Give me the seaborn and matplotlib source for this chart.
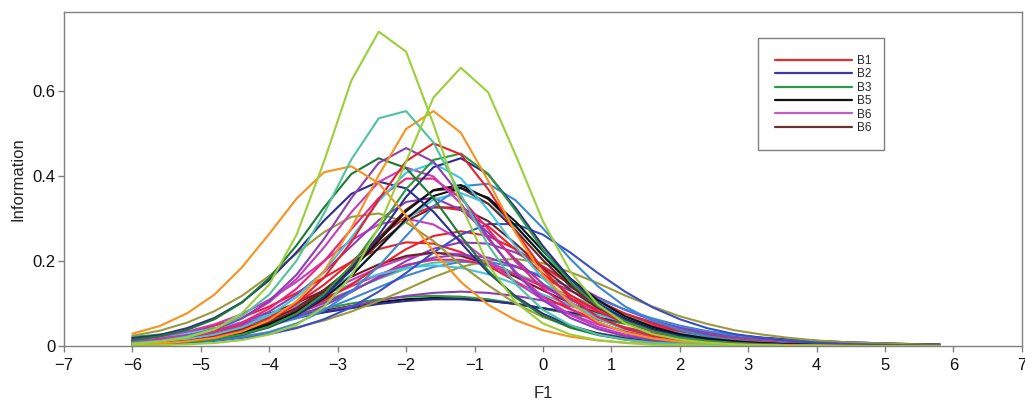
import matplotlib
matplotlib.use("Agg")
import matplotlib.pyplot as plt
import matplotlib.patches as mpatches
from matplotlib.lines import Line2D
import seaborn as sns
import pandas as pd

# ---------------- data ----------------
F1 = [-6.0, -5.6, -5.2, -4.8, -4.4, -4.0, -3.6, -3.2, -2.8, -2.4, -2.0, -1.6, -1.2, -0.8, -0.4,
      0.0, 0.4, 0.8, 1.2, 1.6, 2.0, 2.4, 2.8, 3.2, 3.6, 4.0, 4.4, 4.8, 5.2, 5.6, 5.8]

info_01 = [.020,.025,.032,.040,.049,.060,.071,.083,.094,.103,.110,.113,.112,.107,.099,.089,.077,.065,.054,.044,.036,.029,.023,.018,.014,.011,.008,.006,.005,.004,.003]
info_02 = [.021,.027,.034,.042,.052,.064,.076,.088,.100,.110,.116,.118,.116,.110,.100,.088,.076,.064,.052,.042,.034,.027,.021,.016,.013,.010,.007,.006,.004,.003,.003]
info_03 = [.015,.020,.026,.034,.043,.054,.066,.080,.094,.107,.118,.125,.128,.125,.118,.107,.094,.080,.066,.054,.043,.034,.026,.020,.015,.012,.009,.007,.005,.004,.003]
info_04 = [.019,.024,.030,.038,.047,.056,.067,.079,.089,.099,.106,.110,.110,.106,.099,.089,.079,.067,.056,.047,.038,.030,.024,.019,.015,.012,.009,.007,.005,.004,.004]
info_05 = [.016,.023,.033,.048,.067,.093,.125,.161,.198,.228,.244,.241,.221,.189,.152,.117,.086,.062,.044,.030,.021,.014,.010,.007,.004,.003,.002,.001,.001,.001,.001]
info_06 = [.007,.011,.016,.023,.034,.048,.068,.095,.127,.163,.200,.229,.244,.241,.220,.187,.150,.115,.085,.061,.043,.030,.020,.014,.009,.006,.004,.003,.002,.001,.001]
info_07 = [.013,.018,.026,.036,.051,.070,.095,.123,.155,.185,.208,.220,.216,.198,.170,.139,.108,.082,.060,.043,.031,.022,.015,.010,.007,.005,.003,.002,.002,.001,.001]
info_08 = [.014,.020,.028,.040,.055,.076,.101,.131,.163,.192,.212,.220,.212,.192,.163,.131,.101,.076,.055,.040,.028,.020,.014,.010,.007,.005,.003,.002,.001,.001,.001]
info_09 = [.012,.016,.023,.032,.044,.060,.080,.105,.131,.158,.182,.196,.200,.190,.171,.145,.118,.092,.070,.052,.038,.027,.019,.014,.010,.007,.005,.003,.002,.002,.001]
info_10 = [.009,.013,.018,.025,.035,.048,.065,.086,.111,.138,.165,.186,.198,.198,.186,.165,.138,.111,.086,.065,.048,.035,.025,.018,.013,.009,.006,.004,.003,.002,.002]
info_11 = [.006,.008,.011,.016,.023,.032,.044,.060,.081,.106,.133,.162,.186,.201,.205,.195,.174,.148,.119,.093,.070,.052,.037,.027,.019,.013,.009,.007,.005,.003,.003]
info_12 = [.012,.017,.025,.034,.048,.065,.087,.112,.141,.168,.191,.203,.203,.191,.168,.141,.112,.087,.065,.048,.034,.025,.017,.012,.009,.006,.004,.003,.002,.001,.001]
info_13 = [.010,.014,.020,.028,.040,.056,.076,.101,.130,.160,.188,.208,.215,.208,.188,.160,.130,.101,.076,.056,.040,.028,.020,.014,.010,.007,.005,.003,.002,.002,.001]
info_14 = [.016,.022,.030,.041,.056,.074,.096,.121,.146,.169,.184,.190,.184,.169,.146,.121,.096,.074,.056,.041,.030,.022,.016,.011,.008,.006,.004,.003,.002,.001,.001]
info_15 = [.007,.011,.016,.024,.036,.053,.076,.107,.145,.187,.228,.259,.270,.259,.228,.187,.145,.107,.076,.053,.036,.024,.016,.011,.007,.005,.003,.002,.001,.001,.001]
info_16 = [.015,.022,.034,.051,.075,.109,.151,.200,.249,.286,.300,.286,.249,.200,.151,.109,.075,.051,.034,.022,.015,.010,.006,.004,.003,.002,.001,.001,.000,.000,.000]
info_17 = [.003,.005,.008,.012,.019,.028,.042,.063,.091,.128,.172,.220,.262,.287,.287,.262,.220,.172,.128,.091,.063,.042,.028,.019,.012,.008,.005,.003,.002,.001,.001]
info_18 = [.007,.010,.016,.026,.039,.060,.090,.132,.183,.241,.294,.326,.326,.294,.241,.183,.132,.090,.060,.039,.026,.016,.010,.007,.004,.003,.002,.001,.001,.000,.000]
info_19 = [.007,.012,.018,.028,.044,.067,.100,.144,.198,.255,.304,.329,.320,.282,.227,.170,.120,.082,.054,.035,.023,.015,.009,.006,.004,.003,.002,.001,.001,.000,.000]
info_20 = [.009,.014,.022,.034,.053,.081,.121,.174,.235,.296,.339,.349,.321,.267,.204,.146,.099,.066,.042,.027,.017,.011,.007,.004,.003,.002,.001,.001,.000,.000,.000]
info_21 = [.024,.036,.055,.082,.118,.165,.218,.268,.304,.312,.291,.247,.191,.143,.100,.068,.046,.030,.020,.013,.008,.005,.003,.002,.001,.001,.001,.000,.000,.000,.000]
info_22 = [.005,.008,.012,.020,.031,.049,.076,.115,.168,.231,.296,.345,.360,.335,.280,.215,.154,.104,.069,.044,.028,.018,.011,.007,.004,.003,.002,.001,.001,.000,.000]
info_23 = [.003,.005,.008,.013,.021,.033,.053,.084,.128,.188,.259,.329,.376,.382,.343,.277,.205,.141,.093,.060,.038,.023,.014,.009,.005,.003,.002,.001,.001,.000,.000]
info_24 = [.005,.008,.013,.021,.034,.054,.084,.128,.186,.254,.321,.366,.372,.335,.272,.202,.141,.094,.061,.038,.024,.015,.009,.006,.003,.002,.001,.001,.000,.000,.000]
info_25 = [.004,.007,.011,.018,.030,.047,.073,.112,.165,.231,.299,.353,.372,.349,.293,.224,.159,.108,.070,.045,.028,.018,.011,.007,.004,.003,.002,.001,.001,.000,.000]
info_26 = [.005,.008,.012,.020,.032,.051,.080,.122,.179,.248,.317,.367,.379,.346,.283,.212,.148,.099,.064,.040,.025,.016,.010,.006,.004,.002,.001,.001,.000,.000,.000]
info_27 = [.016,.026,.042,.066,.103,.155,.221,.295,.358,.387,.371,.316,.243,.173,.117,.076,.048,.030,.018,.011,.007,.004,.003,.002,.001,.001,.000,.000,.000,.000,.000]
info_28 = [.008,.013,.021,.034,.055,.088,.135,.199,.275,.348,.394,.394,.348,.275,.199,.135,.088,.055,.034,.021,.013,.008,.005,.003,.002,.001,.001,.000,.000,.000,.000]
info_29 = [.009,.015,.024,.040,.065,.103,.158,.232,.315,.386,.420,.399,.335,.252,.175,.115,.073,.045,.027,.017,.010,.006,.004,.002,.001,.001,.000,.000,.000,.000,.000]
info_30 = [.006,.010,.016,.027,.044,.072,.115,.176,.255,.341,.408,.430,.395,.320,.234,.159,.103,.064,.039,.024,.014,.008,.005,.003,.002,.001,.001,.000,.000,.000,.000]
info_31 = [.003,.005,.009,.016,.026,.044,.072,.116,.179,.261,.351,.421,.442,.404,.325,.235,.158,.101,.062,.038,.023,.013,.008,.005,.003,.002,.001,.001,.000,.000,.000]
info_32 = [.003,.006,.009,.016,.027,.046,.076,.122,.190,.277,.369,.438,.453,.405,.319,.227,.150,.094,.058,.035,.020,.012,.007,.004,.002,.001,.001,.000,.000,.000,.000]
info_33 = [.014,.023,.038,.063,.102,.160,.237,.326,.405,.442,.419,.348,.259,.177,.114,.071,.043,.026,.015,.009,.005,.003,.002,.001,.001,.000,.000,.000,.000,.000,.000]
info_34 = [.008,.013,.023,.039,.065,.106,.168,.252,.348,.431,.466,.434,.353,.256,.171,.108,.066,.040,.023,.014,.008,.005,.003,.002,.001,.001,.000,.000,.000,.000,.000]
info_35 = [.004,.007,.012,.021,.036,.060,.100,.161,.245,.345,.435,.477,.451,.369,.269,.180,.113,.069,.041,.024,.014,.008,.005,.003,.002,.001,.001,.000,.000,.000,.000]
info_36 = [.029,.047,.077,.121,.185,.264,.347,.409,.423,.383,.307,.223,.151,.097,.061,.037,.022,.013,.008,.005,.003,.002,.001,.001,.000,.000,.000,.000,.000,.000,.000]
info_37 = [.003,.006,.011,.019,.034,.061,.105,.176,.278,.402,.511,.553,.502,.389,.266,.167,.100,.057,.032,.018,.010,.006,.003,.002,.001,.001,.000,.000,.000,.000,.000]
info_38 = [.007,.012,.022,.040,.070,.121,.201,.312,.439,.536,.553,.479,.356,.237,.146,.085,.049,.027,.015,.008,.005,.003,.001,.001,.000,.000,.000,.000,.000,.000,.000]
info_39 = [.001,.002,.004,.007,.014,.027,.050,.092,.165,.280,.434,.585,.655,.597,.450,.294,.175,.098,.053,.028,.015,.008,.004,.002,.001,.001,.000,.000,.000,.000,.000]
info_40 = [.005,.010,.020,.039,.077,.145,.262,.434,.625,.740,.693,.522,.333,.191,.103,.053,.027,.014,.007,.003,.002,.001,.000,.000,.000,.000,.000,.000,.000,.000,.000]

curves = [info_01, info_02, info_03, info_04, info_05, info_06, info_07, info_08, info_09, info_10,
          info_11, info_12, info_13, info_14, info_15, info_16, info_17, info_18, info_19, info_20,
          info_21, info_22, info_23, info_24, info_25, info_26, info_27, info_28, info_29, info_30,
          info_31, info_32, info_33, info_34, info_35, info_36, info_37, info_38, info_39, info_40]

legend_labels = ["B1", "B2", "B3", "B5", "B6", "B6"]
x_ticks = [-7, -6, -5, -4, -3, -2, -1, 0, 1, 2, 3, 4, 5, 6, 7]
y_ticks = [0, 0.2, 0.4, 0.6]
y_tick_labels = ["0", "0.2", "0.4", "0.6"]

# ---------------- styles ----------------
PAL = dict(yg='#9bcf3a', teal='#4fc49b', orange='#f6921e', red='#e8202a', purple='#8b3fb5',
           dg='#1d7a35', green='#2b9a3c', navy='#2b2c8c', cyan='#42c4de', mag='#c83cc0',
           pink='#e8247c', black='#111111', maroon='#6e2227', steel='#3d86d2', olive='#9a9a3c',
           royal='#3a4ec4')
curve_colors = ['black', 'green', 'purple', 'navy', 'red', 'purple', 'mag', 'maroon', 'teal', 'steel',
                'olive', 'pink', 'purple', 'cyan', 'red', 'mag', 'royal', 'maroon', 'red', 'purple',
                'olive', 'cyan', 'steel', 'maroon', 'black', 'black', 'navy', 'pink', 'mag', 'cyan',
                'navy', 'green', 'dg', 'purple', 'red', 'orange', 'orange', 'teal', 'yg', 'yg']
legend_colors = ['#ec2a2a', '#3a3aa0', '#2e9a45', '#111111', '#c65bc4', '#6b2f2f']

sns.set_style("white")
plt.rcParams['font.family'] = ['Liberation Sans', 'DejaVu Sans']

rows = []
for k, ys in enumerate(curves):
    name = "item%02d" % (k + 1)
    for xv, yv in zip(F1, ys):
        rows.append({"F1": xv, "Information": yv, "item": name})
df = pd.DataFrame(rows)
order = ["item%02d" % (k + 1) for k in range(len(curves))]
palette = {n: PAL[c] for n, c in zip(order, curve_colors)}

fig = plt.figure(figsize=(10.25, 4.04), dpi=100)
ax = fig.add_axes([0.0624, 0.1436, 0.9346, 0.8264])
sns.lineplot(data=df, x="F1", y="Information", hue="item", hue_order=order, palette=palette,
             estimator=None, sort=False, legend=False, linewidth=1.5, ax=ax)

ax.set_xlim(-7, 7)
ax.set_ylim(0, 0.786)
ax.set_xticks(x_ticks)
ax.set_yticks(y_ticks)
ax.set_yticklabels(y_tick_labels)
for sp in ax.spines.values():
    sp.set_color('#808080')
    sp.set_linewidth(1.0)
    sp.set_visible(True)
ax.tick_params(axis='both', which='major', bottom=True, left=True, direction='out', length=4,
               width=1, color='#808080', labelsize=12, labelcolor='#111111')
ax.tick_params(axis='x', pad=5)
ax.tick_params(axis='y', pad=2)
ax.set_xlabel("F1", fontsize=12, labelpad=9)
ax.set_ylabel("Information", fontsize=12, labelpad=5)

# legend box
ax.add_patch(mpatches.Rectangle((0.7244, 0.587), 0.1316, 0.335, transform=ax.transAxes,
                                facecolor='white', edgecolor='#7f7f7f', linewidth=1.0, zorder=5))
handles = [Line2D([0], [0], color=c, lw=1.6) for c in legend_colors]
leg = ax.legend(handles, legend_labels, loc='upper left', bbox_to_anchor=(0.742, 0.872),
                frameon=False, fontsize=8.5, handlelength=6.5, handletextpad=0.5,
                labelspacing=0.12, borderpad=0, borderaxespad=0)
leg.set_zorder(6)

fig.savefig("out.png", dpi=100)
